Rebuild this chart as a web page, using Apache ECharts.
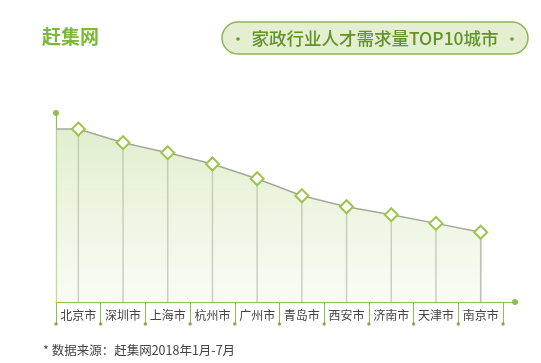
<!DOCTYPE html>
<html>
<head>
<meta charset="utf-8">
<style>html,body{margin:0;padding:0;background:#fff;}#c{width:541px;height:363px;}</style>
<script src="https://cdn.jsdelivr.net/npm/echarts@6/dist/echarts.min.js"></script>
</head>
<body>
<div id="c"></div>
<script>
var cities = ['北京市','深圳市','上海市','杭州市','广州市','青岛市','西安市','济南市','天津市','南京市'];
var demand = [91.5, 84.3, 79.0, 73.0, 65.2, 56.2, 50.4, 46.2, 41.6, 36.9];
var boundaries = [0,1,2,3,4,5,6,7,8,9,10];
var brand = '赶集网';
var chartTitle = '家政行业人才需求量TOP10城市';
var source = '* 数据来源：赶集网2018年1月-7月';

var green = '#8fbf4f';
var dark = '#6a9a2e';

var lineData = [{value: [-0.5, demand[0]], symbol: 'none'}].concat(
  demand.map(function (v, i) { return [i, v]; })
);

var chart = echarts.init(document.getElementById('c'), null, {renderer: 'canvas'});
chart.setOption({
  animation: false,
  grid: [
    {left: 56, right: 38, top: 113, bottom: 61},
    {left: 56, right: 26, top: 113, bottom: 61},
    {left: 56, right: 38, top: 314, bottom: 29}
  ],
  xAxis: [
    {gridIndex: 0, type: 'category', data: cities, boundaryGap: true,
      axisLine: {show: false},
      axisTick: {show: true, interval: 0, length: 22, lineStyle: {color: green, width: 1}},
      axisLabel: {interval: 0, color: '#444', fontSize: 12, margin: 7, fontFamily: 'Noto Sans CJK SC'}
    },
    {gridIndex: 1, type: 'value', min: 0, max: 1, show: true,
      axisLine: {show: true, onZero: false, lineStyle: {color: green, width: 1.2}, symbol: ['none', 'circle'], symbolSize: [6, 6]},
      axisTick: {show: false}, axisLabel: {show: false}, splitLine: {show: false}
    },
    {gridIndex: 0, type: 'value', min: -0.5, max: 9.5, show: false},
    {gridIndex: 2, type: 'value', min: 0, max: 10, show: false}
  ],
  yAxis: [
    {gridIndex: 0, type: 'value', min: 0, max: 100,
      axisLine: {show: true, onZero: false, lineStyle: {color: green, width: 1.2}, symbol: ['none', 'circle'], symbolSize: [6, 6]},
      axisTick: {show: false}, axisLabel: {show: false}, splitLine: {show: false}
    },
    {gridIndex: 1, type: 'value', min: 0, max: 1, show: false},
    {gridIndex: 2, type: 'value', min: -1, max: 1, show: false}
  ],
  series: [
    {type: 'bar', xAxisIndex: 0, yAxisIndex: 0, data: demand, barWidth: 1.5,
      itemStyle: {color: '#a3a79c'}, silent: true, z: 2},
    {type: 'line', xAxisIndex: 2, yAxisIndex: 0, data: lineData,
      symbol: 'diamond', symbolSize: 13,
      lineStyle: {color: '#a3a89a', width: 1.5},
      itemStyle: {color: '#fff', borderColor: '#9cc54a', borderWidth: 2},
      areaStyle: {color: new echarts.graphic.LinearGradient(0, 0, 0, 1, [
        {offset: 0, color: 'rgba(208,228,178,0.9)'},
        {offset: 1, color: 'rgba(242,248,232,0.7)'}
      ])},
      z: 3
    },
    {type: 'scatter', xAxisIndex: 3, yAxisIndex: 2,
      data: boundaries.map(function (b) { return [b, 0]; }),
      symbol: 'circle', symbolSize: 3.5, itemStyle: {color: dark}, silent: true}
  ],
  graphic: [
    {type: 'text', left: 42, top: 27, style: {text: brand, fill: '#7cb83a', font: 'bold 19px "Noto Sans CJK SC"'}},
    {type: 'rect', shape: {x: 222, y: 22, width: 306, height: 32, r: 16},
      style: {fill: '#e4efd2', stroke: '#8db457', lineWidth: 1.5}},
    {type: 'circle', shape: {cx: 238, cy: 39, r: 1.8}, style: {fill: dark}},
    {type: 'circle', shape: {cx: 512, cy: 39, r: 1.8}, style: {fill: dark}},
    {type: 'text', x: 375, y: 38, style: {text: chartTitle, fill: '#62922a', font: '500 17.5px "Noto Sans CJK SC"', align: 'center', verticalAlign: 'middle'}},
    {type: 'text', x: 43, y: 350, style: {text: source, fill: '#444', font: '12.5px "Noto Sans CJK SC"', verticalAlign: 'middle'}}
  ]
});
</script>
</body>
</html>
